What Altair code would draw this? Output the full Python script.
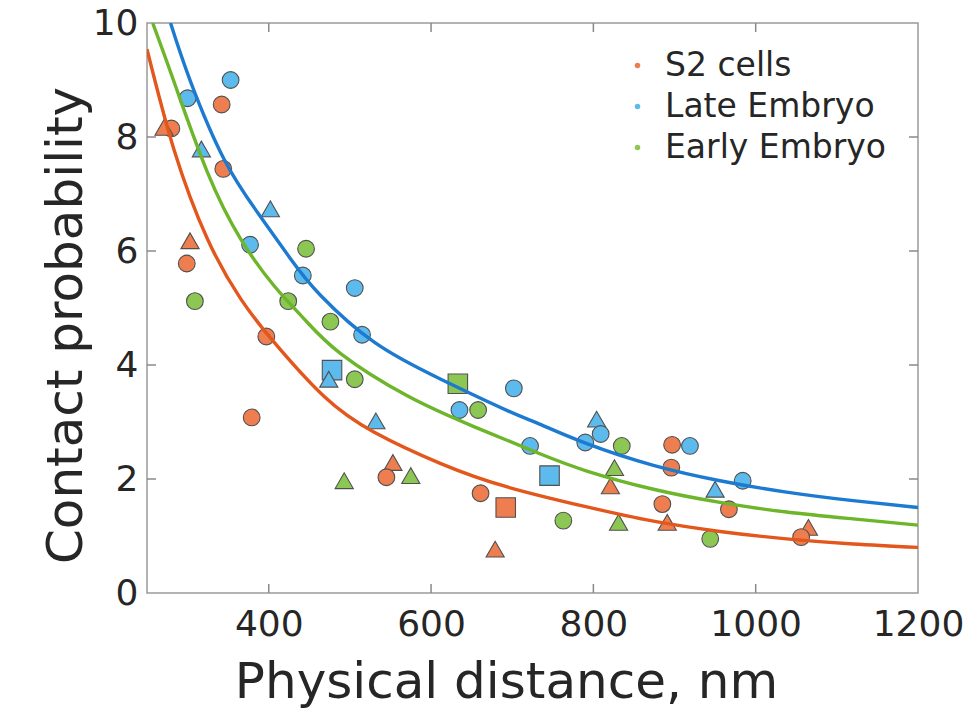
import altair as alt
import pandas as pd

# ---- data ----
series_names = ["S2 cells", "Late Embryo", "Early Embryo"]

s2_x = [280, 271, 342, 344, 303, 299, 397, 379, 553, 545, 661, 692, 679, 821, 897, 896, 885, 967, 891, 1065, 1056]
s2_y = [8.15, 8.17, 8.57, 7.44, 6.18, 5.78, 4.50, 3.08, 2.29, 2.03, 1.75, 1.50, 0.77, 1.88, 2.60, 2.20, 1.56, 1.47, 1.24, 1.15, 0.98]
s2_shape = ["circle", "triangle", "circle", "circle", "triangle", "circle", "circle", "circle", "triangle", "circle",
            "circle", "square", "triangle", "triangle", "circle", "circle", "circle", "circle", "triangle", "triangle", "circle"]

late_x = [353, 300, 317, 402, 377, 442, 506, 515, 478, 474, 702, 635, 532, 722, 804, 809, 790, 919, 746, 950, 984]
late_y = [9.00, 8.68, 7.79, 6.74, 6.11, 5.57, 5.35, 4.53, 3.91, 3.75, 3.59, 3.21, 3.02, 2.58, 3.05, 2.79, 2.64, 2.58, 2.06, 1.82, 1.97]
late_shape = ["circle", "circle", "triangle", "triangle", "circle", "circle", "circle", "circle", "square", "triangle",
              "circle", "circle", "triangle", "circle", "triangle", "circle", "circle", "circle", "square", "triangle", "circle"]

early_x = [446, 309, 424, 476, 506, 633, 658, 493, 575, 835, 826, 763, 831, 944]
early_y = [6.04, 5.12, 5.12, 4.76, 3.75, 3.67, 3.21, 1.97, 2.06, 2.58, 2.20, 1.27, 1.24, 0.95]
early_shape = ["circle", "circle", "circle", "circle", "circle", "square", "circle", "triangle", "triangle", "circle",
               "triangle", "circle", "triangle", "circle"]

# fitted curves
s2_fit_x = [250, 283, 324.5, 365.5, 406.5, 468, 530, 612, 694, 792, 874, 956, 1038, 1120, 1200]
s2_fit_y = [9.54, 7.79, 6.21, 5.16, 4.40, 3.45, 2.82, 2.27, 1.86, 1.51, 1.26, 1.08, 0.95, 0.86, 0.80]

late_fit_x = [279, 304, 345, 386, 427, 464, 530, 612, 694, 731, 792, 874, 956, 1038, 1120, 1200]
late_fit_y = [10.0, 8.96, 7.61, 6.68, 5.86, 5.22, 4.40, 3.75, 3.20, 2.98, 2.62, 2.24, 1.97, 1.77, 1.62, 1.50]

early_fit_x = [257, 283.5, 324.5, 365.5, 406.5, 443.5, 488.6, 570.7, 652.7, 731, 792, 874, 956, 1038, 1120, 1200]
early_fit_y = [10.0, 8.96, 7.38, 6.21, 5.39, 4.81, 4.20, 3.46, 2.92, 2.46, 2.14, 1.82, 1.59, 1.42, 1.30, 1.19]

x_ticks = [400, 600, 800, 1000, 1200]
y_ticks = [0, 2, 4, 6, 8, 10]
x_inner_ticks = [400, 600, 800, 1000]
y_inner_ticks = [2, 4, 6, 8]

# ---- build tables ----
pts = pd.concat([
    pd.DataFrame({"x": s2_x, "y": s2_y, "shape": s2_shape, "series": series_names[0]}),
    pd.DataFrame({"x": late_x, "y": late_y, "shape": late_shape, "series": series_names[1]}),
    pd.DataFrame({"x": early_x, "y": early_y, "shape": early_shape, "series": series_names[2]}),
], ignore_index=True)
pts["i"] = range(len(pts))

fits = pd.concat([
    pd.DataFrame({"x": s2_fit_x, "y": s2_fit_y, "series": series_names[0]}),
    pd.DataFrame({"x": late_fit_x, "y": late_fit_y, "series": series_names[1]}),
    pd.DataFrame({"x": early_fit_x, "y": early_fit_y, "series": series_names[2]}),
], ignore_index=True)

xt = pd.DataFrame({"x": x_inner_ticks})
yt = pd.DataFrame({"y": y_inner_ticks})

W, H = 771, 570
xscale = alt.Scale(domain=[250, 1200], nice=False, zero=False)
yscale = alt.Scale(domain=[0, 10], nice=False)

fill_colors = ["#EE7D50", "#5DBAEC", "#8DC753"]
line_colors = ["#E3561C", "#1C7AD0", "#6DB52A"]
txt = "#262626"

x_axis = alt.Axis(values=x_ticks, format="d", title="Physical distance, nm", labelFontSize=36,
                  labelFont="DejaVu Sans", labelColor=txt, labelPadding=14, titleFontSize=50,
                  titleFont="DejaVu Sans", titleFontWeight="normal", titleColor=txt, titleX=359, titleY=104,
                  titleBaseline="alphabetic", titleAlign="center", labelFlush=False)
y_axis = alt.Axis(values=y_ticks, format="d", title="Contact probability", labelFontSize=36,
                  labelFont="DejaVu Sans", labelColor=txt, labelPadding=9, titleFontSize=50,
                  titleFont="DejaVu Sans", titleFontWeight="normal", titleColor=txt, titleX=-66, titleY=302,
                  titleAngle=-90, titleBaseline="alphabetic", titleAlign="center", labelFlush=False)

points = alt.Chart(pts).mark_point(filled=True, stroke="#505050", strokeWidth=1.1, opacity=1).encode(
    x=alt.X("x:Q", scale=xscale, axis=x_axis),
    y=alt.Y("y:Q", scale=yscale, axis=y_axis),
    fill=alt.Fill("series:N", scale=alt.Scale(domain=series_names, range=fill_colors),
                  legend=alt.Legend(title=None, orient="none", legendX=474, legendY=26,
                                    symbolType="circle", symbolSize=30, symbolStrokeWidth=0,
                                    labelFontSize=33, labelFont="DejaVu Sans", labelColor=txt,
                                    labelOffset=11, labelLimit=0, rowPadding=7, padding=0)),
    shape=alt.Shape("shape:N", scale=alt.Scale(domain=["circle", "triangle", "square"],
                                               range=["circle", "triangle-up", "square"]), legend=None),
    size=alt.Size("shape:N", scale=alt.Scale(domain=["circle", "triangle", "square"],
                                             range=[280, 380, 210]), legend=None),
    order=alt.Order("i:Q"),
)

lines = alt.Chart(fits).mark_line(strokeWidth=3.4, interpolate="natural", clip=True).encode(
    x=alt.X("x:Q", scale=xscale),
    y=alt.Y("y:Q", scale=yscale),
    stroke=alt.Stroke("series:N", scale=alt.Scale(domain=series_names, range=line_colors), legend=None),
    detail="series:N",
)

tick_col = "#8a8a8a"
xt_bottom = alt.Chart(xt).mark_rule(color=tick_col, strokeWidth=1.5).encode(
    x=alt.X("x:Q", scale=xscale), y=alt.value(H), y2=alt.value(H - 9))
xt_top = alt.Chart(xt).mark_rule(color=tick_col, strokeWidth=1.5).encode(
    x=alt.X("x:Q", scale=xscale), y=alt.value(0), y2=alt.value(9))
yt_left = alt.Chart(yt).mark_rule(color=tick_col, strokeWidth=1.5).encode(
    y=alt.Y("y:Q", scale=yscale), x=alt.value(0), x2=alt.value(9))
yt_right = alt.Chart(yt).mark_rule(color=tick_col, strokeWidth=1.5).encode(
    y=alt.Y("y:Q", scale=yscale), x=alt.value(W), x2=alt.value(W - 9))

chart = alt.layer(xt_bottom, xt_top, yt_left, yt_right, points, lines).properties(
    width=W, height=H,
    autosize=alt.AutoSizeParams(type="none"),
    padding={"left": 147, "top": 23, "right": 56, "bottom": 117},
    background="white",
).configure_view(
    stroke="#9a9a9a", strokeWidth=1.5
).configure_axis(
    domain=False, ticks=False, grid=False
)

chart.save("out.html", embed_options={"renderer": "svg", "actions": False})
